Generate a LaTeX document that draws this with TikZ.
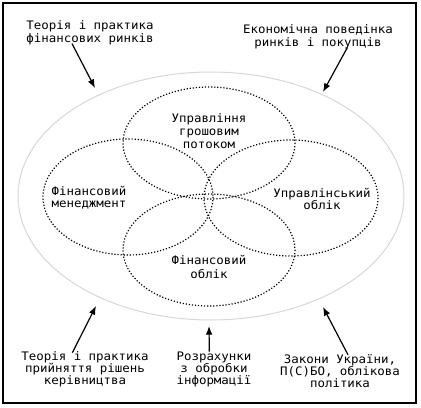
\documentclass[tikz,border=0pt]{standalone}
\usepackage{fontspec}
\usetikzlibrary{arrows.meta}
\newfontfamily\labelfont[FakeStretch=1.06]{DejaVu Sans Mono}

\tikzset{
  lbl/.style={align=center,inner sep=0.75pt,font=\labelfont\fontsize{8.8pt}{#1}\selectfont},
  lbl/.default=9.3pt,
  dots/.style={line width=0.9pt,dash pattern=on 0.9pt off 1.4pt},
  arr/.style={line width=0.9pt,-{Latex[length=6.5pt,width=5pt]}}
}

\begin{document}
\begin{tikzpicture}[x=0.75pt,y=0.75pt,yscale=-1,xscale=1]
\path (0,0) rectangle (421,407);

%Shape: Rectangle [frame]
\draw [line width=1.5pt] (3,3) rectangle (416,403) ;

%Shape: Ellipse [outer]
\draw [color={rgb, 255:red, 215; green, 215; blue, 215 }, line width=0.75] (211,196) ellipse [x radius=193, y radius=124] ;

%Shape: Ellipse [money flow]
\draw [dots] (209,143) ellipse [x radius=86, y radius=56] ;
%Shape: Ellipse [financial management]
\draw [dots] (128,197) ellipse [x radius=85, y radius=58] ;
%Shape: Ellipse [management accounting]
\draw [dots] (291,198) ellipse [x radius=87, y radius=58] ;
%Shape: Ellipse [financial accounting]
\draw [dots] (209,250) ellipse [x radius=86, y radius=56] ;

% Text Node
\node (money) at (209,131) [lbl=10pt] {Управління\\грошовим\\потоком};
% Text Node
\node (mgmt) at (89,198) [lbl=9.2pt] {Фінансовий\\менеджмент};
% Text Node
\node (mgacc) at (322,199) [lbl=9.2pt] {Управлінський\\облік};
% Text Node
\node (finacc) at (209,267) [lbl=9.8pt] {Фінансовий\\облік};

% Text Node
\node (tl) at (90,33) [lbl=9.5pt] {Теорія і практика\\фінансових ринків};
% Text Node
\node (tr) at (318,37) [lbl=9.5pt] {Економічна поведінка\\ринків і покупців};
% Text Node
\node (bl) at (85,369) [lbl=9pt] {Теорія і практика\\прийняття рішень\\керівництва};
% Text Node
\node (bm) at (214,369) [lbl=9pt] {Розрахунки\\з обробки\\інформації};
% Text Node
\node (br) at (340,371) [lbl=8.8pt] {Закони України,\\П(С)БО, облікова\\політика};

% Arrow ends
\coordinate (tlhead) at (95,88);
\coordinate (trhead) at (323,92);
\coordinate (blhead) at (96,306);
\coordinate (bmhead) at (209,326);
\coordinate (brhead) at (323,307);

% Arrows
\draw [arr] ([xshift=-13.5pt,yshift=-2pt]tl.south) -- (tlhead);
\draw [arr] ([xshift=22pt,yshift=-2pt]tr.south) -- (trhead);
\draw [arr] ([xshift=-9.5pt,yshift=2pt]bl.north) -- (blhead);
\draw [arr] ([xshift=-3.5pt,yshift=1pt]bm.north) -- (bmhead);
\draw [arr] ([xshift=6pt,yshift=1pt]br.north) -- (brhead);

\end{tikzpicture}
\end{document}
